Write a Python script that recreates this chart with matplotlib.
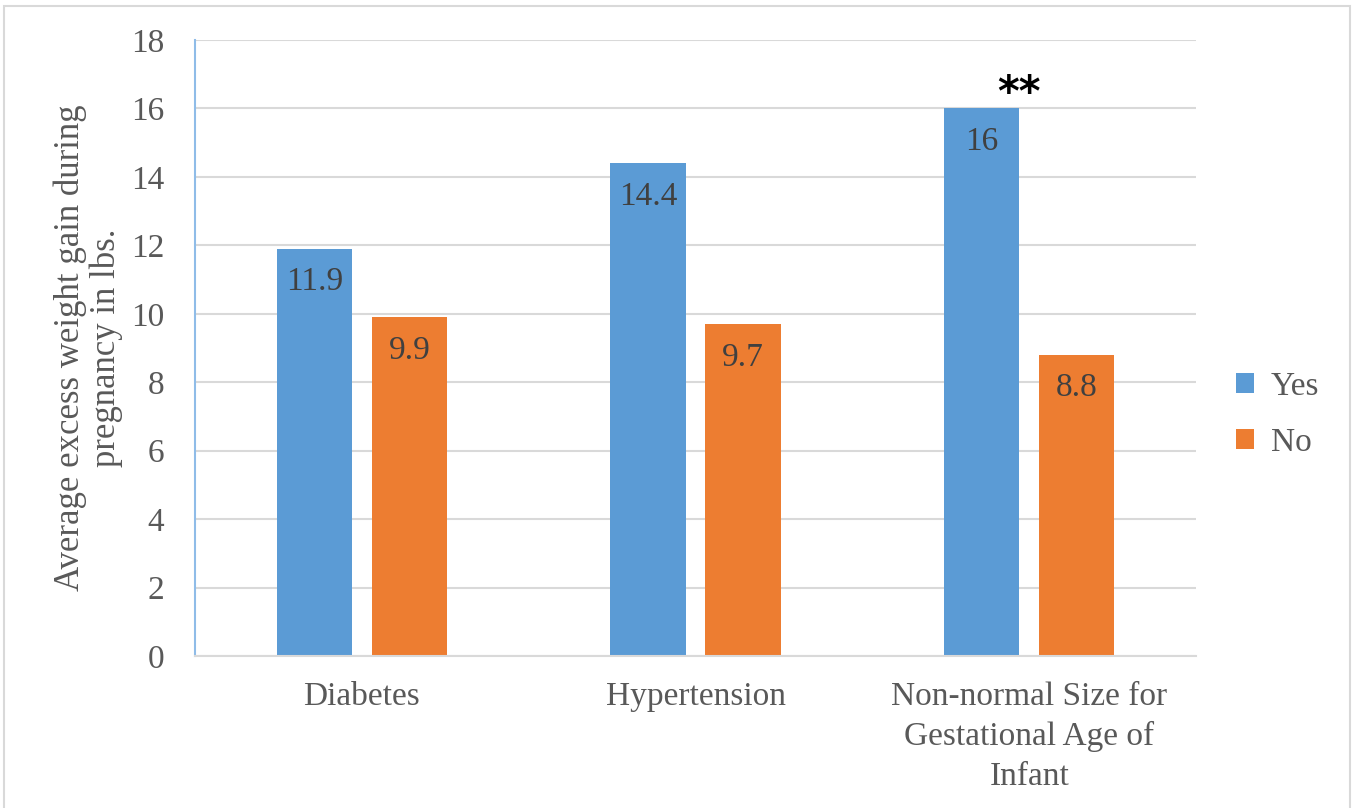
import numpy as np
import matplotlib.pyplot as plt
from matplotlib.patches import Rectangle

# DATOS
categorias = ["Diabetes", "Hypertension", "Non-normal Size for\nGestational Age of\nInfant"]
si = [11.9, 14.4, 16.0]
no = [9.9, 9.7, 8.8]
etiquetas_si = ["11.9", "14.4", "16"]
etiquetas_no = ["9.9", "9.7", "8.8"]
series = ["Yes", "No"]
marca = "**"

AZUL = "#5B9BD5"
NARANJA = "#ED7D31"
TEXTO = "#595959"
REJILLA = "#D9D9D9"

plt.rcParams["font.family"] = ["Liberation Serif", "DejaVu Serif"]

fig = plt.figure(figsize=(13.55, 8.08), dpi=100)
ax = fig.add_axes([0.1439, 0.1881, 0.7388, 0.7624])

x = np.arange(len(categorias))
ancho = 0.225
desp = 0.1424

b1 = ax.bar(x - desp, si, ancho, color=AZUL, label=series[0], zorder=2)
b2 = ax.bar(x + desp, no, ancho, color=NARANJA, label=series[1], zorder=2)

for barras, textos in ((b1, etiquetas_si), (b2, etiquetas_no)):
    for b, t in zip(barras, textos):
        ax.annotate(t, (b.get_x() + b.get_width() / 2, b.get_height()),
                    xytext=(0, -13), textcoords="offset points",
                    ha="center", va="top", fontsize=24, color="#404040", zorder=3)

# Marca de significancia sobre la última barra "Yes"
ultima = b1[-1]
ax.annotate(marca, (ultima.get_x() + ultima.get_width(), ultima.get_height()),
            xytext=(0, -5), textcoords="offset points",
            ha="center", va="bottom", fontsize=30, fontweight="bold",
            color="black", family="DejaVu Sans")

ax.set_xlim(-0.5, len(categorias) - 0.5)
ax.set_ylim(0, 18)
ax.set_yticks(np.arange(0, 19, 2))
ax.set_xticks(x)
ax.set_xticklabels(categorias, linespacing=1.4)
ax.tick_params(axis="y", length=0, pad=22, labelsize=24, labelcolor=TEXTO)
ax.tick_params(axis="x", length=0, pad=18, labelsize=24, labelcolor=TEXTO)

ax.yaxis.grid(True, color=REJILLA, linewidth=1.5, zorder=0)
ax.set_axisbelow(True)
for lado in ("top", "right"):
    ax.spines[lado].set_visible(False)
ax.spines["left"].set_color("#8FBCE8")
ax.spines["left"].set_linewidth(1.5)
ax.spines["bottom"].set_color(REJILLA)
ax.spines["bottom"].set_linewidth(1.5)

ax.set_ylabel("Average excess weight gain during\npregnancy in lbs.",
              fontsize=25, color=TEXTO, labelpad=6, linespacing=1.1)

fig.legend(loc="center left", bbox_to_anchor=(0.89, 0.487), frameon=False,
           fontsize=24, labelcolor=TEXTO, handlelength=0.55, handleheight=0.55,
           handletextpad=0.5, labelspacing=0.75)

fig.patches.append(Rectangle((0.003, -0.01), 0.993, 1.002, transform=fig.transFigure,
                             fill=False, edgecolor="#D9D9D9", linewidth=1.5))

fig.savefig("out.png", dpi=100)
